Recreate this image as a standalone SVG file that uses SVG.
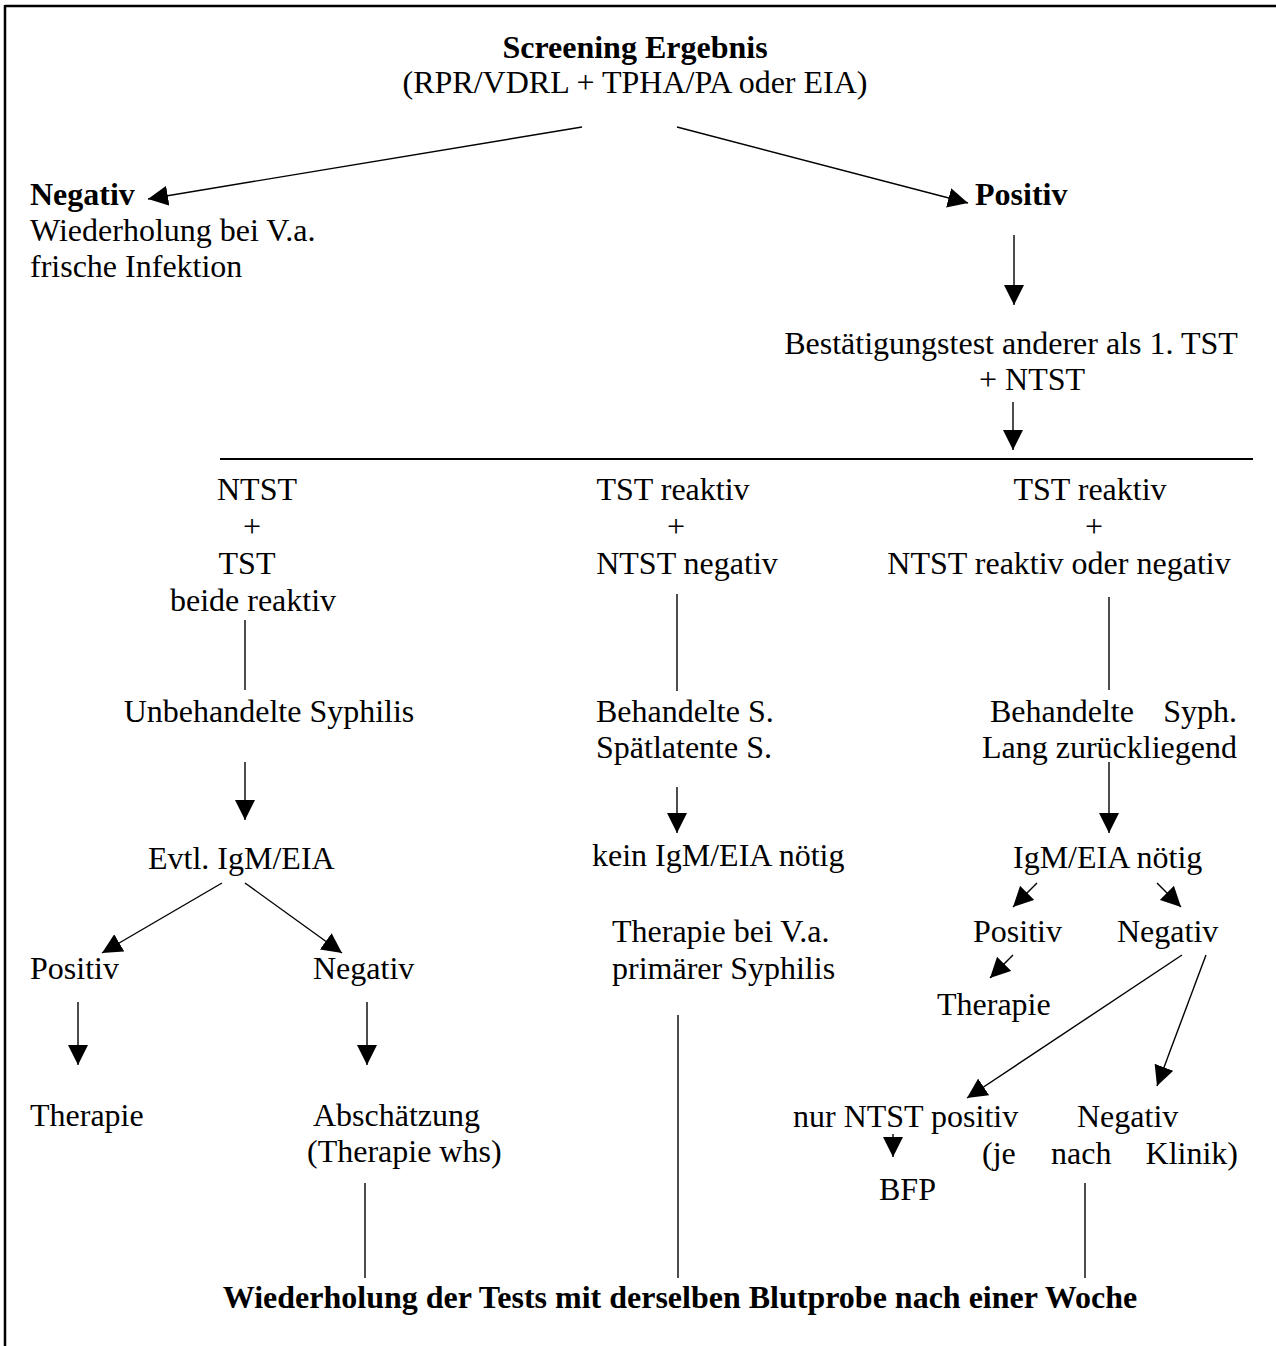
<svg xmlns="http://www.w3.org/2000/svg" width="1276" height="1346" viewBox="0 0 1276 1346">
<style>
text{font-family:"Liberation Serif","Times New Roman",serif;font-size:32px;fill:#000}
.b{font-weight:bold}
.m{text-anchor:middle}
.e{text-anchor:end}
.c line{stroke:#000;stroke-width:1.4;fill:none}
.a{marker-end:url(#ah)}
</style>
<defs>
<marker id="ah" viewBox="0 0 20 20" refX="20" refY="10" markerWidth="20" markerHeight="20" markerUnits="userSpaceOnUse" orient="auto">
<path d="M0,0 L20,10 L0,20 z" fill="#000"/>
</marker>
</defs>
<rect width="1276" height="1346" fill="#fff"/>
<g id="frame" stroke="#000" stroke-width="2.5">
<line x1="5" y1="6" x2="1276" y2="6"/>
<line x1="5" y1="5" x2="5" y2="1346"/>
</g>
<g id="screening"><text class="b m" x="635" y="58">Screening Ergebnis</text><text class="m" x="635" y="93">(RPR/VDRL + TPHA/PA oder EIA)</text></g>
<g id="negativ"><text class="b" x="30" y="205">Negativ</text><text x="30" y="241">Wiederholung bei V.a.</text><text x="30" y="277">frische Infektion</text></g>
<g id="positiv"><text class="b" x="975" y="205">Positiv</text></g>
<g id="bestaetigung"><text class="m" x="1011" y="354">Bestätigungstest anderer als 1. TST</text><text class="m" x="1032" y="390">+ NTST</text></g>
<g id="col1-head"><text class="m" x="257" y="500">NTST</text><text class="m" x="252" y="537">+</text><text class="m" x="247" y="574">TST</text><text class="m" x="253" y="611">beide reaktiv</text></g>
<g id="unbehandelt"><text class="m" x="269" y="722">Unbehandelte Syphilis</text></g>
<g id="evtl"><text x="148" y="869">Evtl. IgM/EIA</text></g>
<g id="l-positiv"><text x="30" y="979">Positiv</text></g>
<g id="l-negativ"><text x="313" y="979">Negativ</text></g>
<g id="l-therapie"><text x="30" y="1126">Therapie</text></g>
<g id="abschaetzung"><text x="313" y="1126">Abschätzung</text><text x="307" y="1162">(Therapie whs)</text></g>
<g id="col2-head"><text class="m" x="673" y="500">TST reaktiv</text><text class="m" x="676" y="537">+</text><text class="m" x="687" y="574">NTST negativ</text></g>
<g id="behandelt-s"><text x="596" y="722">Behandelte S.</text><text x="596" y="758">Spätlatente S.</text></g>
<g id="kein-igm"><text x="592" y="866">kein IgM/EIA nötig</text></g>
<g id="therapie-va"><text x="612" y="942">Therapie bei V.a.</text><text x="612" y="979">primärer Syphilis</text></g>
<g id="col3-head"><text class="m" x="1090" y="500">TST reaktiv</text><text class="m" x="1094" y="537">+</text><text class="m" x="1059" y="574">NTST reaktiv oder negativ</text></g>
<g id="behandelt-syph"><text x="990" y="722">Behandelte</text><text class="e" x="1237" y="722">Syph.</text><text class="e" x="1237" y="758">Lang zurückliegend</text></g>
<g id="igm-noetig"><text x="1013" y="868">IgM/EIA nötig</text></g>
<g id="r-positiv"><text x="973" y="942">Positiv</text></g>
<g id="r-negativ"><text x="1117" y="942">Negativ</text></g>
<g id="r-therapie"><text x="937" y="1015">Therapie</text></g>
<g id="nur-ntst"><text x="793" y="1127">nur NTST positiv</text></g>
<g id="bfp"><text x="879" y="1200">BFP</text></g>
<g id="r-negativ2"><text x="1077" y="1127">Negativ</text><text x="982" y="1164">(je</text><text x="1051" y="1164">nach</text><text class="e" x="1238" y="1164">Klinik)</text></g>
<g id="wiederholung"><text class="b m" x="680" y="1308">Wiederholung der Tests mit derselben Blutprobe nach einer Woche</text></g>
<g id="connectors" class="c">
<line class="a" x1="582" y1="127" x2="148" y2="199"/>
<line class="a" x1="677" y1="127" x2="968" y2="203"/>
<line class="a" x1="1014" y1="235" x2="1014" y2="305"/>
<line class="a" x1="1013" y1="402" x2="1013" y2="450"/>
<line x1="220" y1="459" x2="1253" y2="459" style="stroke-width:1.8"/>
<line x1="245" y1="620" x2="245" y2="690"/>
<line class="a" x1="245" y1="762" x2="245" y2="820"/>
<line class="a" x1="222" y1="883" x2="102" y2="953"/>
<line class="a" x1="245" y1="883" x2="342" y2="953"/>
<line class="a" x1="78" y1="1002" x2="78" y2="1065"/>
<line class="a" x1="367" y1="1002" x2="367" y2="1065"/>
<line x1="365" y1="1183" x2="365" y2="1278"/>
<line x1="677" y1="594" x2="677" y2="691"/>
<line class="a" x1="677" y1="787" x2="677" y2="833"/>
<line x1="678" y1="1015" x2="678" y2="1278"/>
<line x1="1109" y1="597" x2="1109" y2="690"/>
<line class="a" x1="1109" y1="762" x2="1109" y2="833"/>
<line class="a" x1="1037" y1="883" x2="1013" y2="907"/>
<line class="a" x1="1157" y1="883" x2="1181" y2="907"/>
<line class="a" x1="1013" y1="955" x2="990" y2="978"/>
<line class="a" x1="1182" y1="955" x2="967" y2="1098"/>
<line class="a" x1="1206" y1="955" x2="1157" y2="1086"/>
<line class="a" x1="893" y1="1134" x2="893" y2="1157"/>
<line x1="1085" y1="1183" x2="1085" y2="1278"/>
</g>
</svg>
